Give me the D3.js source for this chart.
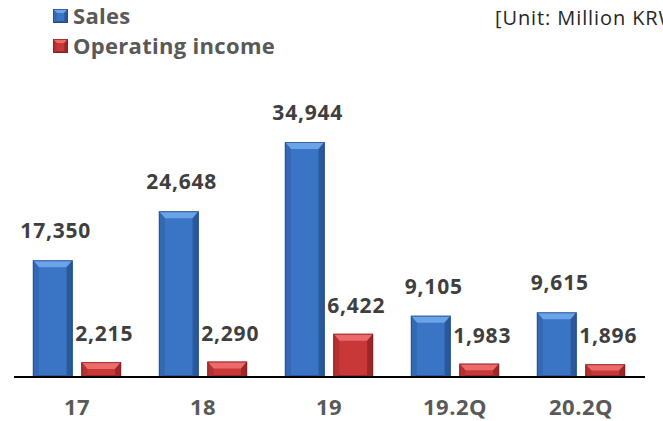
<!DOCTYPE html>
<html><head><meta charset="utf-8">
<script src="https://cdn.jsdelivr.net/npm/d3@7"></script>
<style>html,body{margin:0;padding:0;background:#fff;}svg{display:block;}</style>
</head><body>
<svg id="c" width="663" height="421"></svg>
<script>
const categories = ["17", "18", "19", "19.2Q", "20.2Q"];
const sales = [17350, 24648, 34944, 9105, 9615];
const operatingIncome = [2215, 2290, 6422, 1983, 1896];
const seriesNames = ["Sales", "Operating income"];
const unitLabel = "[Unit: Million KRW";

const svg = d3.select("#c");
const baseY = 377;
const x = d3.scaleBand().domain(categories).range([14, 644]).paddingInner(0.3).paddingOuter(0.15);
const xs = d3.scaleBand().domain([0, 1]).range([0, x.bandwidth()]).paddingInner(0.18);
const y = d3.scaleLinear().domain([0, 40000]).range([baseY, baseY - 269]);

const pal = [
  {face:"#3a74c4", top:"#6aa3e8", left:"#3468b2", right:"#2a5898", bottom:"#2c5a9a", stroke:"#22487e"},
  {face:"#c83838", top:"#ec6a6a", left:"#b53131", right:"#9a2828", bottom:"#9c2a2a", stroke:"#7c1e1e"}
];

function bevelBar(g, x0, x1, y0, y1, c, bmax, btmax) {
  const w = x1 - x0, h = y1 - y0;
  const b = Math.min(bmax || 6, w / 4), bt = Math.min(btmax || 7, h / 2), bb = Math.min(2, h/6);
  g.append("rect").attr("x", x0).attr("y", y0).attr("width", w).attr("height", h).attr("fill", c.face);
  g.append("polygon").attr("points", [[x0,y0],[x1,y0],[x1-b,y0+bt],[x0+b,y0+bt]].join(" ")).attr("fill", c.top);
  g.append("polygon").attr("points", [[x0,y0],[x0+b,y0+bt],[x0+b,y1-bb],[x0,y1]].join(" ")).attr("fill", c.left);
  g.append("polygon").attr("points", [[x1,y0],[x1-b,y0+bt],[x1-b,y1-bb],[x1,y1]].join(" ")).attr("fill", c.right);
  g.append("polygon").attr("points", [[x0,y1],[x0+b,y1-bb],[x1-b,y1-bb],[x1,y1]].join(" ")).attr("fill", c.bottom);
  g.append("rect").attr("x", x0+0.5).attr("y", y0+0.5).attr("width", w-1).attr("height", h-1)
    .attr("fill", "none").attr("stroke", c.stroke).attr("stroke-width", 1).attr("stroke-opacity", 0.7);
}

const font = "'Open Sans', 'Noto Sans', sans-serif";
const fmt = d3.format(",");
const series = [sales, operatingIncome];

series.forEach((vals, si) => {
  const g = svg.append("g");
  vals.forEach((v, i) => {
    const x0 = x(categories[i]) + xs(si);
    const x1 = x0 + xs.bandwidth();
    const y0 = y(v);
    bevelBar(g, x0, x1, y0, baseY, pal[si]);
    svg.append("text").attr("x", (x0 + x1) / 2 + 3).attr("y", y0 - (si === 0 ? 22 : 21))
      .attr("text-anchor", "middle").attr("font-family", font).attr("font-weight", "bold")
      .attr("font-size", 21).attr("letter-spacing", 0.8).attr("fill", "#3f3f3f").text(fmt(v));
  });
});

// axis line
svg.append("line").attr("x1", 14).attr("x2", 645).attr("y1", baseY).attr("y2", baseY)
  .attr("stroke", "#000").attr("stroke-width", 2);

// category labels
const xAxis = svg.append("g").attr("transform", `translate(0,${baseY})`)
  .call(d3.axisBottom(x).tickSize(0).tickPadding(22));
xAxis.select(".domain").remove();
xAxis.selectAll("text").attr("font-family", font).attr("font-weight", "bold")
  .attr("font-size", 22).attr("letter-spacing", 0.5).attr("fill", "#595959");

// legend
seriesNames.forEach((name, i) => {
  const ly = 9 + i * 30;
  bevelBar(svg.append("g"), 53, 68, ly, ly + 14, pal[i], 4, 4);
  svg.append("text").attr("x", 73).attr("y", ly + 15).attr("font-family", font)
    .attr("font-weight", "bold").attr("font-size", 22).attr("letter-spacing", 0.3).attr("fill", "#595959").text(name);
});

svg.append("text").attr("x", 495).attr("y", 25).attr("font-family", font)
  .attr("font-size", 20).attr("letter-spacing", 0.9).attr("fill", "#262626").text(unitLabel);
</script>
</body></html>
